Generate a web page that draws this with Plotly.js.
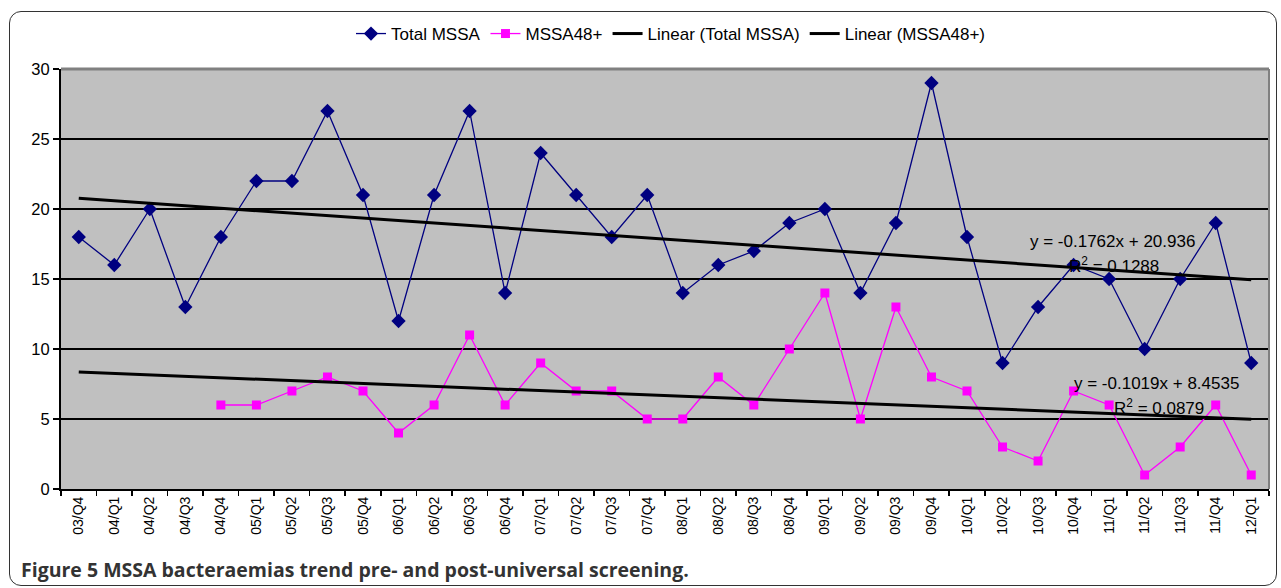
<!DOCTYPE html>
<html>
<head>
<meta charset="utf-8">
<script src="https://cdn.plot.ly/plotly-3.0.1.min.js"></script>
<style>
  html, body { margin: 0; padding: 0; background: #fff; }
  #wrap { position: relative; width: 1281px; height: 588px; }
  #chart { position: absolute; left: 0; top: 0; width: 1281px; height: 588px; }
  #frame { position: absolute; left: 9px; top: 11px; width: 1268px; height: 575px;
           border: 1.5px solid #333; border-radius: 12px; pointer-events: none; box-sizing: border-box; }
</style>
</head>
<body>
<div id="wrap">
  <div id="chart"></div>
  <div id="frame"></div>
</div>
<script>
const categories = ["03/Q4","04/Q1","04/Q2","04/Q3","04/Q4","05/Q1","05/Q2","05/Q3","05/Q4",
  "06/Q1","06/Q2","06/Q3","06/Q4","07/Q1","07/Q2","07/Q3","07/Q4",
  "08/Q1","08/Q2","08/Q3","08/Q4","09/Q1","09/Q2","09/Q3","09/Q4",
  "10/Q1","10/Q2","10/Q3","10/Q4","11/Q1","11/Q2","11/Q3","11/Q4","12/Q1"];

const totalMSSA = [18,16,20,13,18,22,22,27,21,12,21,27,14,24,21,18,21,14,16,17,19,20,14,19,29,18,9,13,16,15,10,15,19,9];

const mssa48 = [null,null,null,null,6,6,7,8,7,4,6,11,6,9,7,7,5,5,8,6,10,14,5,13,8,7,3,2,7,6,1,3,6,1];

// Excel trendline coefficients as shown on the chart (x = 1..34)
const trendTotal = {slope: -0.1762, intercept: 20.936, r2: "0.1288"};
const trend48 = {slope: -0.1019, intercept: 8.4535, r2: "0.0879"};

const yTicks = [0,5,10,15,20,25,30];

function trendSeries(t) {
  return categories.map((c, i) => t.slope * (i + 1) + t.intercept);
}

const FONT = "Liberation Sans, Arial, sans-serif";

const traces = [
  {x: categories, y: totalMSSA, name: "Total MSSA", type: "scatter", mode: "lines+markers",
   line: {color: "#000080", width: 1.3}, marker: {symbol: "diamond", size: 11, color: "#000080"}},
  {x: categories, y: mssa48, name: "MSSA48+", type: "scatter", mode: "lines+markers",
   line: {color: "#ff00ff", width: 1.3}, marker: {symbol: "square", size: 9, color: "#ff00ff"}},
  {x: categories, y: trendSeries(trendTotal), name: "Linear (Total MSSA)", type: "scatter", mode: "lines",
   line: {color: "#000000", width: 3}},
  {x: categories, y: trendSeries(trend48), name: "Linear (MSSA48+)", type: "scatter", mode: "lines",
   line: {color: "#000000", width: 3}}
];

const ML = 61, MR = 12, MT = 69, MB = 99;
const plotW = 1281 - ML - MR, plotH = 588 - MT - MB;

const layout = {
  width: 1281, height: 588,
  margin: {l: ML, r: MR, t: MT, b: MB},
  paper_bgcolor: "rgba(0,0,0,0)",
  plot_bgcolor: "#c0c0c0",
  font: {family: FONT, size: 14, color: "#000"},
  showlegend: true,
  legend: {orientation: "h", x: (671 - ML) / plotW, xanchor: "center", y: 1 + (MT - 34) / plotH, yanchor: "middle",
           font: {family: FONT, size: 17, color: "#000"}, bgcolor: "rgba(0,0,0,0)",
           itemwidth: 30, tracegroupgap: 0},
  xaxis: {type: "category", tickangle: -90, ticks: "outside", tickson: "boundaries",
          ticklen: 5, tickcolor: "#000", tickwidth: 1.5, showgrid: false,
          showline: true, linecolor: "#000", linewidth: 2, zeroline: false,
          tickfont: {family: FONT, size: 14, color: "#000"}, range: [-0.5, 33.5], fixedrange: true},
  yaxis: {range: [0, 30], tickvals: yTicks, ticks: "outside", ticklen: 6, tickcolor: "#000",
          tickwidth: 1.5, showgrid: true, gridcolor: "#000", gridwidth: 1.3,
          showline: true, linecolor: "#000", linewidth: 2, zeroline: false,
          tickfont: {family: FONT, size: 16.5, color: "#000"}, fixedrange: true},
  shapes: [
    {type: "line", xref: "paper", yref: "paper", x0: 0, x1: 1, y0: 1, y1: 1,
     line: {color: "#808080", width: 3}},
    {type: "line", xref: "paper", yref: "paper", x0: 1, x1: 1, y0: 0, y1: 1,
     line: {color: "#808080", width: 2}}
  ],
  annotations: [
    {x: 26.72, y: 17.66, xref: "x", yref: "y", xanchor: "left", showarrow: false,
     text: "y = " + trendTotal.slope + "x + " + trendTotal.intercept,
     font: {family: FONT, size: 17, color: "#000"}},
    {x: 27.81, y: 16.0, xref: "x", yref: "y", xanchor: "left", showarrow: false,
     text: "R<sup>2</sup> = " + trendTotal.r2,
     font: {family: FONT, size: 17, color: "#000"}},
    {x: 27.95, y: 7.57, xref: "x", yref: "y", xanchor: "left", showarrow: false,
     text: "y = " + trend48.slope + "x + " + trend48.intercept,
     font: {family: FONT, size: 17, color: "#000"}},
    {x: 29.07, y: 5.88, xref: "x", yref: "y", xanchor: "left", showarrow: false,
     text: "R<sup>2</sup> = " + trend48.r2,
     font: {family: FONT, size: 17, color: "#000"}},
    {x: (19 - ML) / plotW, y: (588 - MB - 569) / plotH, xref: "paper", yref: "paper",
     xanchor: "left", yanchor: "middle", showarrow: false,
     text: "<b>Figure 5 MSSA bacteraemias trend pre- and post-universal screening.</b>",
     font: {family: "Open Sans, Noto Sans, sans-serif", size: 19.5, color: "#333"}}
  ]
};

Plotly.newPlot("chart", traces, layout, {displayModeBar: false, staticPlot: true});
</script>
</body>
</html>
